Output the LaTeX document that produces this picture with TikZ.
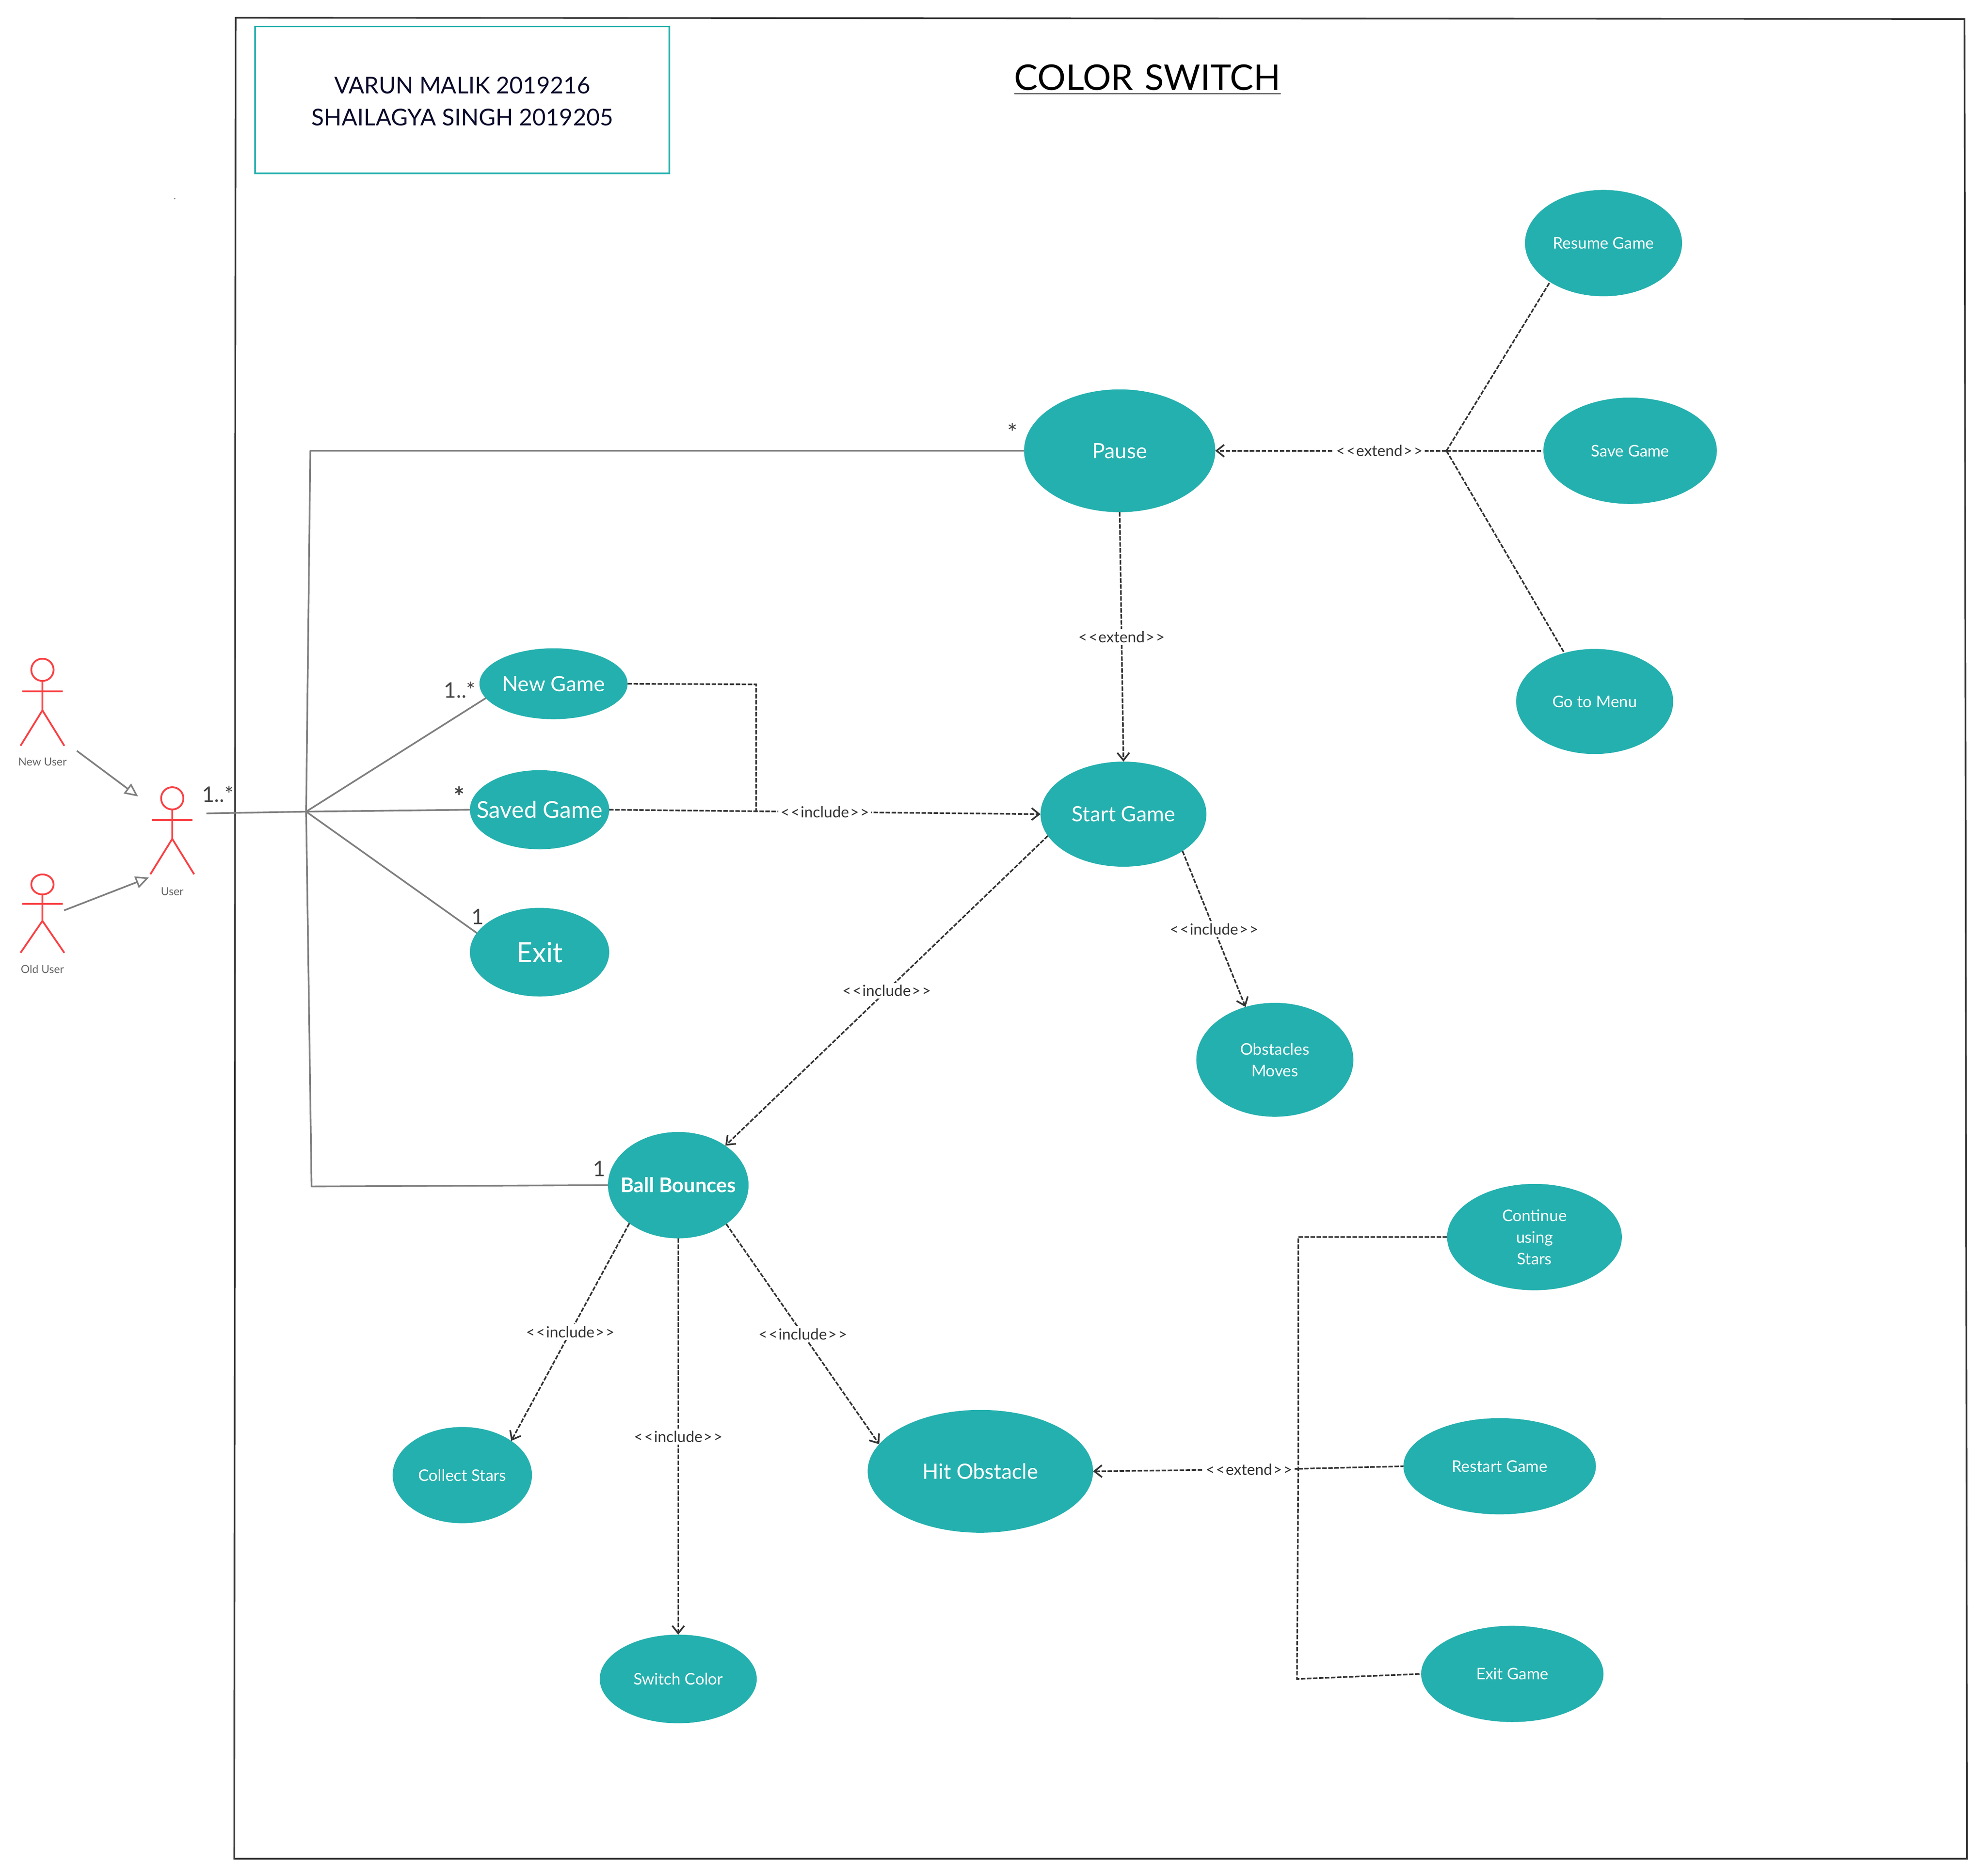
\documentclass[tikz,border=0pt]{standalone}
\usepackage{fontspec}
\setmainfont{Lato}
\usetikzlibrary{shapes.geometric,arrows.meta}
\definecolor{tealfill}{HTML}{24B0AE}
\definecolor{actorred}{HTML}{F94144}
\definecolor{solidgrey}{HTML}{7F7F7F}
\definecolor{dashgrey}{HTML}{333333}
\definecolor{multigrey}{HTML}{444444}
\definecolor{inkblue}{HTML}{0A0A2A}
\newcommand{\tsize}[1]{\fontsize{#1}{#1}\selectfont}
\newcommand{\incl}{<\kern0.6pt<\kern0.4pt include\kern0.4pt>\kern0.6pt>}
\newcommand{\extd}{<\kern0.6pt<\kern0.4pt extend\kern0.4pt>\kern0.6pt>}
\tikzset{
  usecase/.style={ellipse,fill=tealfill,text=white,inner sep=0pt,outer sep=0pt,align=center},
  bigcase/.style={usecase,font=\tsize{9.45}},
  smallcase/.style={usecase,font=\fontsize{7.2}{9.7}\selectfont},
  assoc/.style={draw=solidgrey,line width=0.75pt},
  dep/.style={draw=dashgrey,line width=0.72pt,dash pattern=on 2pt off 0.7pt},
  deparrow/.style={dep,-{Straight Barb[length=3.4pt,width=5.4pt,line width=0.75pt]}},
  gen/.style={assoc,-{Triangle[open,length=6pt,width=5.5pt,line width=0.7pt]}},
  deplabel/.style={fill=white,inner sep=1pt,text=dashgrey,font=\tsize{6.9}},
  multi/.style={text=multigrey,inner sep=0pt,font=\tsize{9.6}},
  actorname/.style={text=solidgrey!80!black,inner sep=0pt,font=\tsize{5}},
  stickman/.pic={
    \draw[actorred,line width=0.8pt,line join=round]
      (0,0) ellipse (8.8 and 8.8)
      (0,-8.8) -- (0,-32) -- (-17.3,-60)
      (0,-32) -- (17.3,-60)
      (-16,-17) -- (16,-17);
  }
}
\begin{document}
\begin{tikzpicture}[x=0.02cm,y=0.02cm]
\useasboundingbox (0,0) rectangle (1568,-1481.6);
% frame
\draw[dashgrey,line width=0.75pt] (186,-14) -- (1551,-15) -- (1553,-1468) -- (185,-1468) -- cycle;
\node (authors) [draw=tealfill,line width=0.75pt,minimum width=6.54cm,minimum height=2.32cm] at (365,-79) {};
\node (authortext) [text=inkblue,inner sep=0pt,align=center,font=\fontsize{10.4}{14.2}\selectfont] at (365,-80) {VARUN MALIK 2019216\\SHAILAGYA SINGH 2019205};
\node (title) [text=black,inner sep=0pt,font=\tsize{15.9}] at (906,-63) {\underline{COLOR\hspace{1pt} SWITCH}};
\node (speck) [inner sep=0pt,text=solidgrey,font=\tsize{5}] at (138,-157) {.};

% actors
\pic at (33.5,-529) {stickman};
\pic at (136,-630.5) {stickman};
\pic[yscale=0.9] at (33.5,-698.5) {stickman};
\node (newuserlabel) [actorname] at (33.5,-601.5) {New User};
\node (userlabel) [actorname] at (136,-704) {User};
\node (olduserlabel) [actorname] at (33.5,-765.5) {Old User};
\coordinate (newuser) at (60.7,-593);
\coordinate (olduser) at (50.6,-719);
\coordinate (userin1) at (109,-629);
\coordinate (userin2) at (117.6,-693);
\coordinate (user) at (163,-642.4);
\draw[gen] (newuser) -- (userin1);
\draw[gen] (olduser) -- (userin2);

% use cases
\node (resume) [smallcase,minimum width=2.48cm,minimum height=1.68cm] at (1266,-192) {Resume Game};
\node (save) [smallcase,minimum width=2.74cm,minimum height=1.68cm] at (1287,-356) {Save Game};
\node (menu) [smallcase,minimum width=2.48cm,minimum height=1.66cm] at (1259,-554) {Go to Menu};
\node (pause) [bigcase,minimum width=3.02cm,minimum height=1.94cm] at (884,-356) {Pause};
\node (newgame) [bigcase,minimum width=2.34cm,minimum height=1.12cm] at (437,-540) {New Game};
\node (savedgame) [bigcase,font=\tsize{10.4},minimum width=2.2cm,minimum height=1.25cm] at (426,-639.5) {\makebox[0pt]{Saved Game}};
\node (exit) [usecase,font=\tsize{12.5},minimum width=2.2cm,minimum height=1.4cm] at (426,-752) {Exit};
\node (start) [bigcase,minimum width=2.62cm,minimum height=1.66cm] at (887,-643) {Start Game};
\node (obstacles) [smallcase,minimum width=2.48cm,minimum height=1.8cm] at (1006.5,-837) {Obstacles\\Moves};
\node (ball) [bigcase,font=\bfseries\tsize{9.1},minimum width=2.22cm,minimum height=1.68cm] at (535.5,-936) {\makebox[0pt]{Ball Bounces}};
\node (stars) [smallcase,minimum width=2.2cm,minimum height=1.52cm] at (365,-1165) {Collect Stars};
\node (switch) [smallcase,minimum width=2.48cm,minimum height=1.4cm] at (535.5,-1326) {Switch Color};
\node (hit) [bigcase,minimum width=3.56cm,minimum height=1.94cm] at (774,-1162) {Hit Obstacle};
\node (continue) [smallcase,minimum width=2.76cm,minimum height=1.68cm] at (1211.5,-977) {Continue\\using\\Stars};
\node (restart) [smallcase,minimum width=3.04cm,minimum height=1.52cm] at (1184,-1158) {Restart Game};
\node (exitgame) [smallcase,minimum width=2.88cm,minimum height=1.52cm] at (1194,-1322) {Exit Game};

% associations
\coordinate (hub) at (241.7,-641);
\coordinate (hubtop) at (245,-356);
\coordinate (hubbot) at (246,-937);
\draw[assoc] (user) -- (hub);
\draw[assoc] (hub) -- (newgame.192.8);
\draw[assoc] (hub) -- (savedgame.west);
\draw[assoc] (hub) -- (exit.163);
\draw[assoc,line join=round] (pause.west) -- (hubtop) -- (hub) -- (hubbot) -- (ball.west);

% multiplicities
\node (m1) [multi] at (172,-627) {1..*};
\node (m2) [multi] at (363,-545) {1..*};
\node (m3) [multi,font=\bfseries\tsize{11.5}] at (362.5,-629) {*};
\node (m4) [multi] at (377,-724) {1};
\node (m5) [multi,font=\tsize{11}] at (799.5,-341.5) {*};
\node (m6) [multi] at (473,-923) {1};

% dependencies
\coordinate (incl) at (597,-641);
\coordinate (inclup) at (597,-540.5);
\coordinate (extup) at (1142,-356);
\coordinate (exttop) at (1025,-977);
\coordinate (extmid) at (1025,-1160);
\coordinate (extbot) at (1024,-1326);
\draw[dep] (newgame.east) -- (inclup) -- (incl);
\draw[deparrow] (savedgame.east) -- (start.west) node[deplabel,pos=0.5] {\incl};
\draw[deparrow] (pause.south) -- (start.north) node[deplabel,pos=0.5] {\extd};
\draw[deparrow] (extup) -- (pause.east) node[deplabel,pos=0.29] {\extd};
\draw[dep] (extup) -- (resume.216);
\draw[dep] (extup) -- (save.west);
\draw[dep] (extup) -- (menu.122.3);
\draw[deparrow] (start.-32.8) -- (obstacles.119) node[deplabel,pos=0.5] {\incl};
\draw[deparrow] (start.196.6) -- (ball.40.5) node[deplabel,pos=0.5] {\incl};
\draw[deparrow] (ball.218.3) -- (stars.35.5) node[deplabel,pos=0.5] {\incl};
\draw[deparrow] (ball.south) -- (switch.north) node[deplabel,pos=0.5] {\incl};
\draw[deparrow] (ball.-39.8) -- (hit.165.6) node[deplabel,pos=0.5] {\incl};
\draw[dep] (continue.west) -- (exttop) -- (extmid) -- (extbot) -- (exitgame.west);
\draw[dep] (extmid) -- (restart.west);
\draw[deparrow] (extmid) -- (hit.east) node[deplabel,pos=0.24] {\extd};
\end{tikzpicture}
\end{document}
